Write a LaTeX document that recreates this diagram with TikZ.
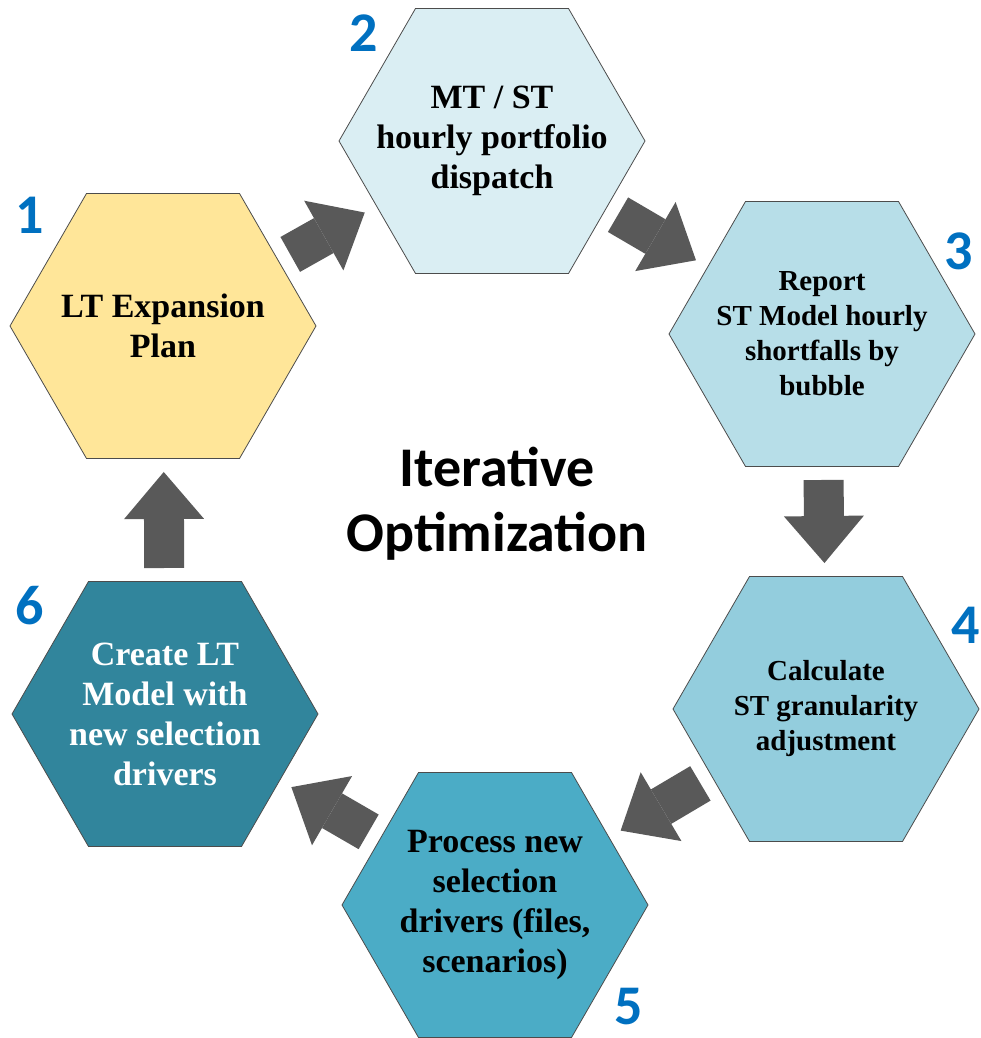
\documentclass[tikz,border=0pt]{standalone}
\usepackage{fontspec}
\setmainfont{Liberation Serif}
\newfontfamily\calibri{Carlito}
\usetikzlibrary{arrows.meta}
\definecolor{hexgold}{HTML}{FFE699}
\definecolor{hexpale}{HTML}{DAEEF3}
\definecolor{hexlight}{HTML}{B7DEE8}
\definecolor{hexmid}{HTML}{93CDDD}
\definecolor{hexaqua}{HTML}{4BACC6}
\definecolor{hexdeep}{HTML}{31859C}
\definecolor{numblue}{HTML}{0070C0}
\definecolor{arrowgray}{HTML}{595959}
\begin{document}
\begin{tikzpicture}[x=1pt,y=1pt,>={Triangle[length=47pt,width=80pt,line width=0pt]}]
\tikzset{
  hexline/.style={draw=black!70,line width=0.8pt},
  stage/.style={inner sep=0pt,align=center,font=\bfseries\fontsize{34}{40}\selectfont},
  smalltext/.style={font=\bfseries\fontsize{29}{35}\selectfont},
  stepno/.style={inner sep=0pt,text=numblue,font=\calibri\bfseries\fontsize{56}{60}\selectfont},
  flow/.style={->,draw=arrowgray,line width=40pt,shorten <=146pt,shorten >=146pt}
}
\useasboundingbox (0,0) rectangle (980,1038);
\coordinate (c1) at (163,712);
\coordinate (c2) at (492,897);
\coordinate (c3) at (822,704);
\coordinate (c4) at (826,329);
\coordinate (c5) at (495,133);
\coordinate (c6) at (165,324);
% hexagons
\foreach \c/\col in {c1/hexgold,c2/hexpale,c3/hexlight,c4/hexmid,c5/hexaqua,c6/hexdeep}
  \draw[hexline,fill=\col] (\c) +(0:153) -- +(60:153) -- +(120:153) -- +(180:153) -- +(240:153) -- +(300:153) -- cycle;
% the six stages
\node[stage] (plan) at (c1) {LT Expansion\\Plan};
\node[stage] (dispatch) at (c2) {MT / ST\\hourly portfolio\\dispatch};
\node[stage,smalltext] (report) at (c3) {Report\\ST Model hourly\\shortfalls by\\bubble};
\node[stage,smalltext] (adjust) at (c4) {Calculate\\ST granularity\\adjustment};
\node[stage] (process) at (c5) {Process new\\selection\\drivers (files,\\scenarios)};
\node[stage,text=white] (create) at (c6) {Create LT\\Model with\\new selection\\drivers};
% step numbers
\node[stepno] (n1) at (30,823) {1};
\node[stepno] (n2) at (364,1005) {2};
\node[stepno] (n3) at (959,787) {3};
\node[stepno] (n4) at (966,413) {4};
\node[stepno] (n5) at (629,31) {5};
\node[stepno] (n6) at (30,432) {6};
\node[font=\calibri\bfseries\fontsize{56}{65}\selectfont,align=center] (title) at (497,534) {Iterative\\Optimization};
% the cycle
\draw[flow] (plan.center) -- (dispatch.center);
\draw[flow] (dispatch.center) -- (report.center);
\draw[flow] (report.center) -- (adjust.center);
\draw[flow] (adjust.center) -- (process.center);
\draw[flow] (process.center) -- (create.center);
\draw[flow] (create.center) -- (plan.center);
\end{tikzpicture}
\end{document}
